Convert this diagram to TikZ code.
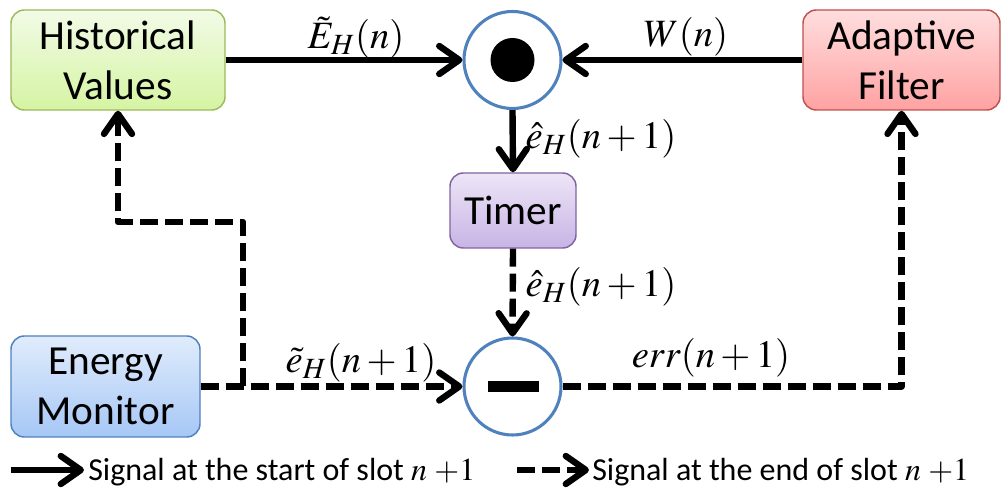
\documentclass[tikz,border=0pt]{standalone}
\usepackage{mathptmx}
\usepackage{fontspec}
\setmainfont{Carlito}
\DeclareMathSizes{29}{29}{22}{17}
\usetikzlibrary{arrows.meta,positioning,calc}
\definecolor{gtop}{HTML}{F2FBE6}\definecolor{gbot}{HTML}{D5F4A3}\definecolor{gbrd}{HTML}{9BBB59}
\definecolor{rtop}{HTML}{FFDEDE}\definecolor{rbot}{HTML}{FFA2A2}\definecolor{rbrd}{HTML}{C0504D}
\definecolor{btop}{HTML}{E0ECFC}\definecolor{bbot}{HTML}{A6C7F6}\definecolor{bbrd}{HTML}{4F81BD}
\definecolor{ptop}{HTML}{EDE5F7}\definecolor{pbot}{HTML}{C8B4E5}\definecolor{pbrd}{HTML}{8064A2}
\definecolor{cbrd}{HTML}{4F81BD}
\tikzset{
  blk/.style={rectangle, rounded corners=10pt, line width=1.1pt, align=center,
    font=\fontsize{31}{37.5}\selectfont, inner sep=0pt},
  opc/.style={circle, draw=cbrd, line width=2.3pt, fill=white, minimum size=72.75pt, inner sep=0pt},
  sol/.style={line width=4.8pt, -{Straight Barb[length=15pt,width=21pt,round]}},
  dsh/.style={sol, line join=round, dash pattern=on 13.5pt off 5.25pt},
  lab/.style={anchor=base, inner sep=0pt, font=\fontsize{29}{34}\selectfont},
  leg/.style={anchor=base west, inner sep=0pt, font=\fontsize{24}{28}\selectfont},
}
\begin{document}
\begin{tikzpicture}[x=0.75pt,y=-0.75pt]
\useasboundingbox (0,0) rectangle (1001,491);
% boxes
\node[blk, draw=gbrd, top color=gtop, bottom color=gbot, minimum width=160.5pt, minimum height=75pt] (hv) at (118,60) {Historical\\Values};
\node[blk, draw=rbrd, top color=rtop, bottom color=rbot, minimum width=147.75pt, minimum height=75pt] (af) at (901.5,60) {Adaptive\\Filter};
\node[blk, draw=pbrd, top color=ptop, bottom color=pbot, minimum width=94.5pt, minimum height=56.25pt] (tm) at (513,210.5) {Timer};
\node[blk, draw=bbrd, top color=btop, bottom color=bbot, minimum width=141.75pt, minimum height=75.75pt] (em) at (105.5,386.5) {Energy\\Monitor};
% operators
\node[opc] (dot) at (512.5,60) {};
\fill (dot.center) circle[radius=16.5pt];
\node[opc] (mn) at (512.5,386.5) {};
\fill (488,381) rectangle (539,392);
% connectors
\draw[sol] (hv.east) -- (dot.west);
\draw[sol] (af.west) -- (dot.east);
\draw[sol] (dot.south) -- (tm.north);
\draw[dsh] (tm.south) -- (mn.north);
\draw[dsh] (em.east) -- (mn.west);
\coordinate (br) at (243,386.5);
\coordinate (kn) at (243,222);
\draw[dsh] (br) -- (kn) -| (hv.south);
\draw[dsh] (mn.east) -| (af.south);
% labels
\node[lab] (l1) at (356,49) {$\tilde{E}_H(n)$};
\node[lab] (l2) at (686,47) {$W(n)$};
\node[lab] (l3) at (601,149) {$\hat{e}_H(n+1)$};
\node[lab] (l4) at (601,297) {$\hat{e}_H(n+1)$};
\node[lab] (l5) at (361,373) {$\tilde{e}_H(n+1)$};
\node[lab] (l6) at (711,368) {$err(n+1)$};
% legend
\coordinate (la1) at (11,470); \coordinate (lb1) at (84,470);
\coordinate (la2) at (517,470); \coordinate (lb2) at (589,470);
\draw[sol] (la1) -- (lb1);
\draw[dsh] (la2) -- (lb2);
\node[leg] (t1) at (88,481) {Signal at the start of slot $n$ $+1$};
\node[leg] (t2) at (592,481) {Signal at the end of slot $n$ $+1$};
\end{tikzpicture}
\end{document}
